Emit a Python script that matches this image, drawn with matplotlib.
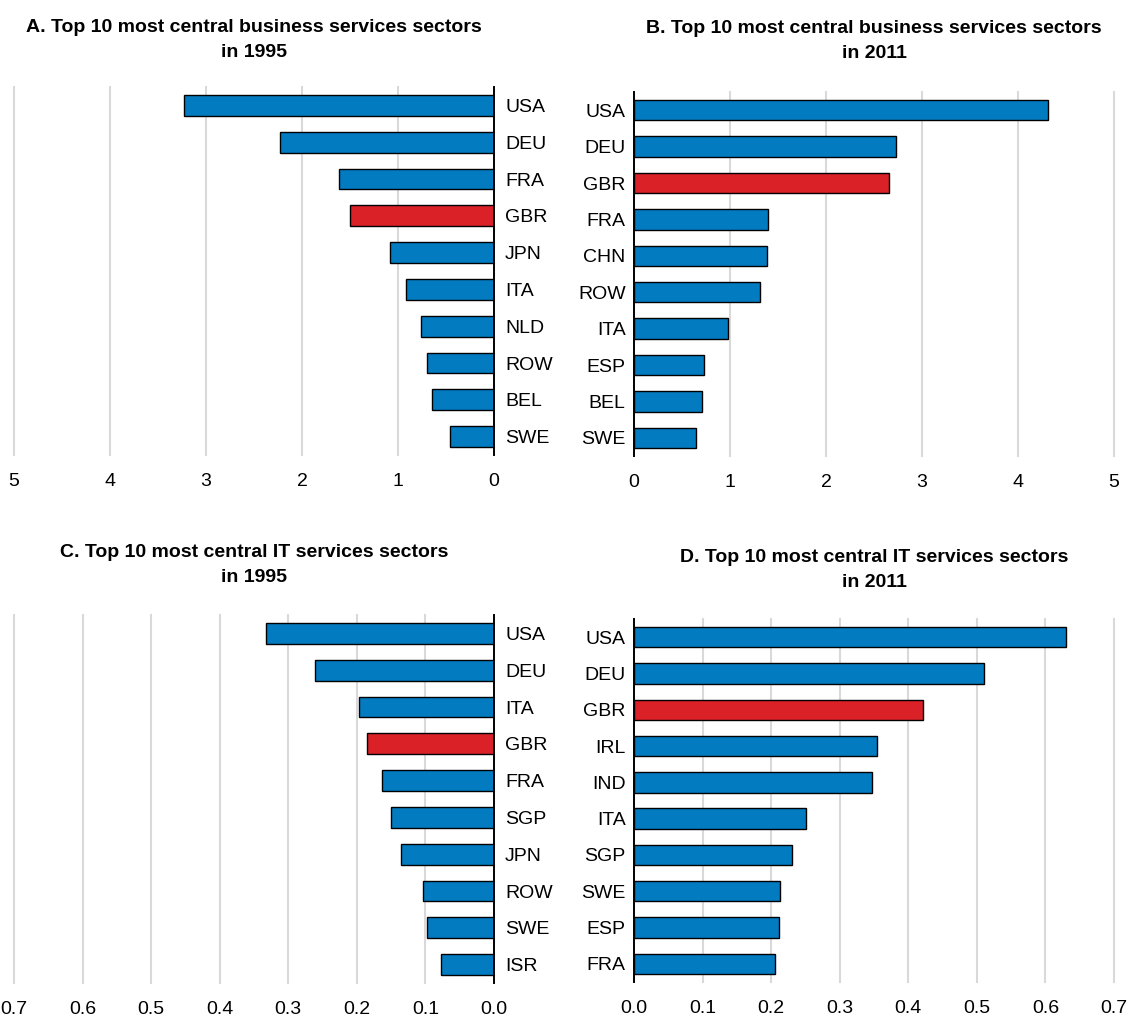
import matplotlib
matplotlib.use("Agg")
import matplotlib.pyplot as plt

plt.rcParams['font.family'] = ['Liberation Sans Narrow', 'Liberation Sans', 'DejaVu Sans']

BLUE = '#037BC1'
RED = '#DA2128'
GRID = '#D9D9D9'

# Panel A: business services 1995
a_countries = ['USA', 'DEU', 'FRA', 'GBR', 'JPN', 'ITA', 'NLD', 'ROW', 'BEL', 'SWE']
a_values = [3.23, 2.23, 1.61, 1.50, 1.08, 0.92, 0.76, 0.70, 0.65, 0.46]
# Panel B: business services 2011
b_countries = ['USA', 'DEU', 'GBR', 'FRA', 'CHN', 'ROW', 'ITA', 'ESP', 'BEL', 'SWE']
b_values = [4.31, 2.73, 2.66, 1.40, 1.39, 1.31, 0.98, 0.73, 0.71, 0.65]
# Panel C: IT services 1995
c_countries = ['USA', 'DEU', 'ITA', 'GBR', 'FRA', 'SGP', 'JPN', 'ROW', 'SWE', 'ISR']
c_values = [0.333, 0.261, 0.197, 0.185, 0.163, 0.150, 0.136, 0.104, 0.097, 0.078]
# Panel D: IT services 2011
d_countries = ['USA', 'DEU', 'GBR', 'IRL', 'IND', 'ITA', 'SGP', 'SWE', 'ESP', 'FRA']
d_values = [0.630, 0.511, 0.422, 0.355, 0.347, 0.251, 0.230, 0.213, 0.212, 0.206]

titles = ['A. Top 10 most central business services sectors\nin 1995',
          'B. Top 10 most central business services sectors\nin 2011',
          'C. Top 10 most central IT services sectors\nin 1995',
          'D. Top 10 most central IT services sectors\nin 2011']

ticks_bs = [0, 1, 2, 3, 4, 5]
ticks_it = [0.0, 0.1, 0.2, 0.3, 0.4, 0.5, 0.6, 0.7]

W, H = 1131, 1018
fig = plt.figure(figsize=(W / 100, H / 100), dpi=100)


def rect(left, top, right, bottom):
    return [left / W, 1 - bottom / H, (right - left) / W, (bottom - top) / H]


def panel(r, countries, values, ticks, fmt, mirrored, title, title_y):
    ax = fig.add_axes(r)
    n = len(countries)
    pos = list(range(n))[::-1]
    colors = [RED if c == 'GBR' else BLUE for c in countries]
    ax.barh(pos, values, height=0.56, color=colors, edgecolor='black', linewidth=1.0, zorder=3)
    ax.set_ylim(-0.5, n - 0.5)
    ax.set_yticks(pos)
    ax.set_yticklabels(countries)
    ax.set_xticks(ticks)
    ax.set_xticklabels([fmt.format(t) for t in ticks])
    if mirrored:
        ax.set_xlim(ticks[-1], 0)
        ax.yaxis.tick_right()
        ax.tick_params(axis='y', pad=8)
        for s in ['left', 'top', 'bottom']:
            ax.spines[s].set_visible(False)
        ax.spines['right'].set_linewidth(1.4)
        ax.spines['right'].set_zorder(4)
    else:
        ax.set_xlim(0, ticks[-1])
        ax.tick_params(axis='y', pad=6)
        for s in ['right', 'top', 'bottom']:
            ax.spines[s].set_visible(False)
        ax.spines['left'].set_linewidth(1.4)
        ax.spines['left'].set_zorder(4)
    ax.tick_params(axis='both', length=0, labelsize=14)
    ax.tick_params(axis='x', pad=13)
    for t in ticks:
        if t != 0:
            ax.axvline(t, color=GRID, linewidth=1.5, zorder=1, clip_on=False)
    cx = r[0] + r[2] / 2
    fig.text(cx, 1 - title_y / H, title, ha='center', va='center', fontsize=14,
             fontweight='bold', linespacing=1.6)
    return ax


panel(rect(14, 87, 494, 455), a_countries, a_values, ticks_bs, '{:d}', True, titles[0], 40)
panel(rect(634, 92, 1114, 456), b_countries, b_values, ticks_bs, '{:d}', False, titles[1], 41)
panel(rect(14, 615, 494, 983), c_countries, c_values, ticks_it, '{:.1f}', True, titles[2], 565)
panel(rect(634, 619, 1114, 982), d_countries, d_values, ticks_it, '{:.1f}', False, titles[3], 570)

fig.savefig('out.png', dpi=100)
